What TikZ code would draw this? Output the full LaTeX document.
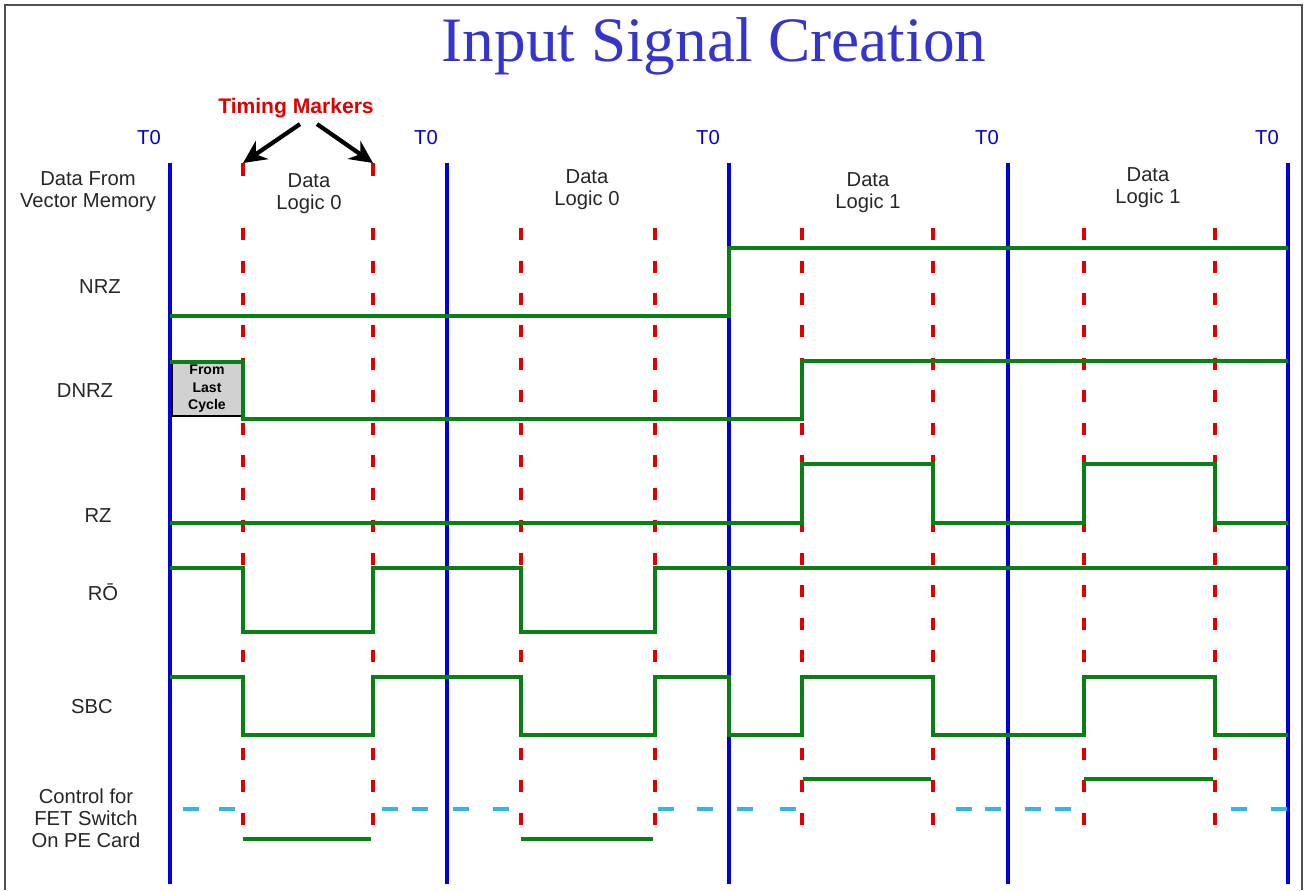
\documentclass[tikz,border=0pt]{standalone}
\usepackage{fontspec}
\setmainfont{Liberation Sans}
\newfontfamily\titlefont{Liberation Serif}
\usepackage{xcolor}
\usepackage{tikz}
\usetikzlibrary{arrows.meta}
\definecolor{cgreen}{HTML}{0A7F16}
\definecolor{cblue}{HTML}{0000DD}
\definecolor{cred}{HTML}{E00000}
\definecolor{ccyan}{HTML}{33B5E8}
\definecolor{ctitle}{HTML}{3535CC}
\definecolor{cframe}{HTML}{505050}
\tikzset{sig/.style={cgreen,line width=1.8pt},
  tzero/.style={cblue,line width=2.3pt},
  tmark/.style={cred,line width=2pt,dash pattern=on 0.24cm off 0.41cm},
  fet/.style={ccyan,line width=2pt},
  lbl/.style={font=\fontsize{11.5}{12.5}\selectfont,align=center,text=black!85},
  tarrow/.style={-{Stealth[length=4.6mm,width=4.4mm]},line width=2.4pt}}

\begin{document}
\begin{tikzpicture}[x=0.02cm,y=-0.02cm]
\useasboundingbox (0,0) rectangle (1305,890);
\draw[cframe,line width=1.6pt] (5,890) -- (5,5) -- (1302,5) -- (1302,890);

% ===== title and markers =====
\node[anchor=base,text=ctitle,font=\titlefont\fontsize{36}{40}\selectfont] (title) at (714,61) {Input Signal Creation};
\node[text=cred,font=\fontsize{12}{12}\selectfont\bfseries] (tm) at (296,108) {Timing Markers};
\coordinate (mk1) at (243,163);
\coordinate (mk2) at (373,163);
\draw[tarrow] ([xshift=0.08cm]tm.south) -- (mk1);
\draw[tarrow] ([xshift=0.42cm]tm.south) -- (mk2);

% ===== grid: T0 lines and timing markers =====
\foreach \x in {243,373,521,655,802,933,1084,1215}
  \draw[tmark] (\x,228) -- (\x,832);
\draw[cred,line width=2pt] (mk1) -- ++(0,13);
\draw[cred,line width=2pt] (mk2) -- ++(0,13);
\foreach \x in {170,447,729,1008,1288}{
  \draw[tzero] (\x,163) -- (\x,884);
  \node[text=cblue,font=\fontsize{11.5}{12}\selectfont] at (\x-21,138) {T0};
}

% ===== row labels =====
\node[lbl] (vm) at (88,192) {Data From\\Vector Memory};
\node[lbl] (nrz) at (100,287) {NRZ};
\node[lbl] (dnrz) at (85,391) {DNRZ};
\node[lbl] (rz) at (98,516) {RZ};
\node[lbl] (ro) at (103,592) {RŌ};
\node[lbl] (sbc) at (92,707) {SBC};
\node[lbl] (fet) at (86,818) {Control for\\FET Switch\\On PE Card};
\node[lbl] (d1) at (309,194) {Data\\Logic 0};
\node[lbl] (d2) at (587,190) {Data\\Logic 0};
\node[lbl] (d3) at (868,193) {Data\\Logic 1};
\node[lbl] (d4) at (1148,188) {Data\\Logic 1};

% ===== waveforms =====
\draw[sig] (170,316) -| (729,248) -- (1288,248);
\node[draw=black,line width=1.2pt,fill=black!18,minimum width=1.4cm,minimum height=1.07cm,align=center,
  font=\fontsize{8}{10}\selectfont\bfseries,inner sep=0pt] (last) at (207,389) {From\\Last\\Cycle};
\draw[sig] (170,362) -| (243,419) -| (802,361) -- (1288,361);
\draw[sig] (170,523) -| (802,464) -| (933,523) -| (1084,464) -| (1215,523) -- (1288,523);
\draw[sig] (170,568) -| (243,632) -| (373,568) -| (521,632) -| (655,568) -- (1288,568);
\draw[sig] (170,677) -| (243,735) -| (373,677) -| (521,735) -| (655,677) -| (729,735)
  -| (802,677) -| (933,735) -| (1084,677) -| (1215,735) -- (1288,735);

% FET switch control
\foreach \a/\b in {243/371,521/653}
  \draw[sig] (\a,839) -- (\b,839);
\foreach \a/\b in {803/931,1084/1213}
  \draw[sig] (\a,779) -- (\b,779);
\foreach \a in {183,219,382,412,453,493,658,697,737,780,956,985,1025,1055,1231,1271}
  \draw[fet] (\a,809) -- ++(16,0);

\end{tikzpicture}
\end{document}
